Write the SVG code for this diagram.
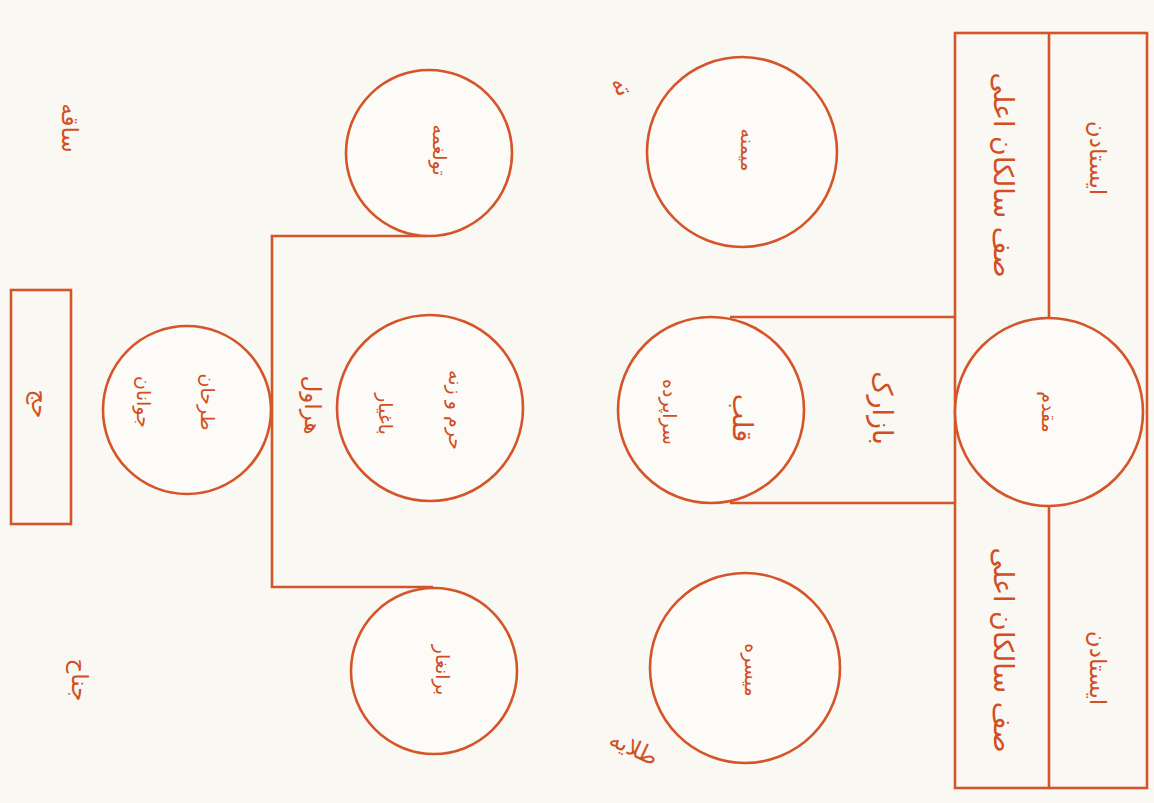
<svg xmlns="http://www.w3.org/2000/svg" width="1154" height="803" viewBox="0 0 1154 803">
<style>
.s{fill:none;stroke:#d5552a;stroke-width:2.6}
.c{fill:#fcfbf8;stroke:#d5552a;stroke-width:2.6}
text{font-family:"DejaVu Sans",sans-serif;fill:#d14f22;text-anchor:middle;dominant-baseline:central;direction:rtl}
.b{font-size:27px}
.m{font-size:23px}
.t{font-size:19px}
</style>
<rect width="1154" height="803" fill="#faf8f3"/>
<g id="connectors">
<line class="s" x1="730" y1="317" x2="955" y2="317"/>
<line class="s" x1="730" y1="503" x2="955" y2="503"/>
<polyline class="s" points="427,236 272,236 272,587 433,587"/>
</g>
<g id="frame">
<rect class="s" x="955" y="33" width="192" height="755"/>
<line class="s" x1="1049" y1="33" x2="1049" y2="318"/>
<line class="s" x1="1049" y1="506" x2="1049" y2="788"/>
<text class="m" transform="translate(1098,158) rotate(90)">ایستادن</text>
<text class="m" transform="translate(1098,668) rotate(90)">ایستادن</text>
<text class="b" transform="translate(1003,175) rotate(90)">صف سالکان اعلی</text>
<text class="b" transform="translate(1003,650) rotate(90)">صف سالکان اعلی</text>
</g>
<g id="muqaddam">
<circle class="c" cx="1049" cy="412" r="94"/>
<text class="t" transform="translate(1049,412) rotate(90)">مقدم</text>
</g>
<g id="bazarak">
<text class="b" transform="translate(882,408) rotate(90)">بازارک</text>
</g>
<g id="qalb">
<circle class="c" cx="711" cy="410" r="93"/>
<text class="b" transform="translate(742,418) rotate(90)">قلب</text>
<text class="t" transform="translate(670,412) rotate(90)">سراپرده</text>
</g>
<g id="maymana">
<circle class="c" cx="742" cy="152" r="95"/>
<text class="t" transform="translate(748,150) rotate(90)">میمنه</text>
</g>
<g id="maysara">
<circle class="c" cx="745" cy="668" r="95"/>
<text class="t" transform="translate(752,670) rotate(90)">میسره</text>
</g>
<g id="label-ta">
<text class="m" transform="translate(622,86) rotate(60)">ته</text>
</g>
<g id="label-talaya">
<text class="m" transform="translate(634,748) rotate(25)">طلایه</text>
</g>
<g id="tulghama">
<circle class="c" cx="429" cy="153" r="83"/>
<text class="t" transform="translate(440,150) rotate(90)">تولغمه</text>
</g>
<g id="haram">
<circle class="c" cx="430" cy="408" r="93"/>
<text class="t" transform="translate(456,410) rotate(90)">حرم و زنه</text>
<text class="t" transform="translate(386,414) rotate(90)">باغیار</text>
</g>
<g id="harawal">
<text class="m" transform="translate(313,405) rotate(90)">هراول</text>
</g>
<g id="baranghar">
<circle class="c" cx="434" cy="671" r="83"/>
<text class="t" transform="translate(443,670) rotate(90)">برانغار</text>
</g>
<g id="tarh">
<circle class="c" cx="187" cy="410" r="84"/>
<text class="t" transform="translate(208,402) rotate(90)">طرحان</text>
<text class="t" transform="translate(144,402) rotate(90)">جوانان</text>
</g>
<g id="box">
<rect class="s" x="11" y="290" width="60" height="234"/>
<text class="m" transform="translate(40,404) rotate(90)">حج</text>
</g>
<g id="label-saqa">
<text class="m" transform="translate(70,128) rotate(90)">ساقه</text>
</g>
<g id="label-bottom">
<text class="m" transform="translate(80,680) rotate(90)">جناح</text>
</g>
</svg>
